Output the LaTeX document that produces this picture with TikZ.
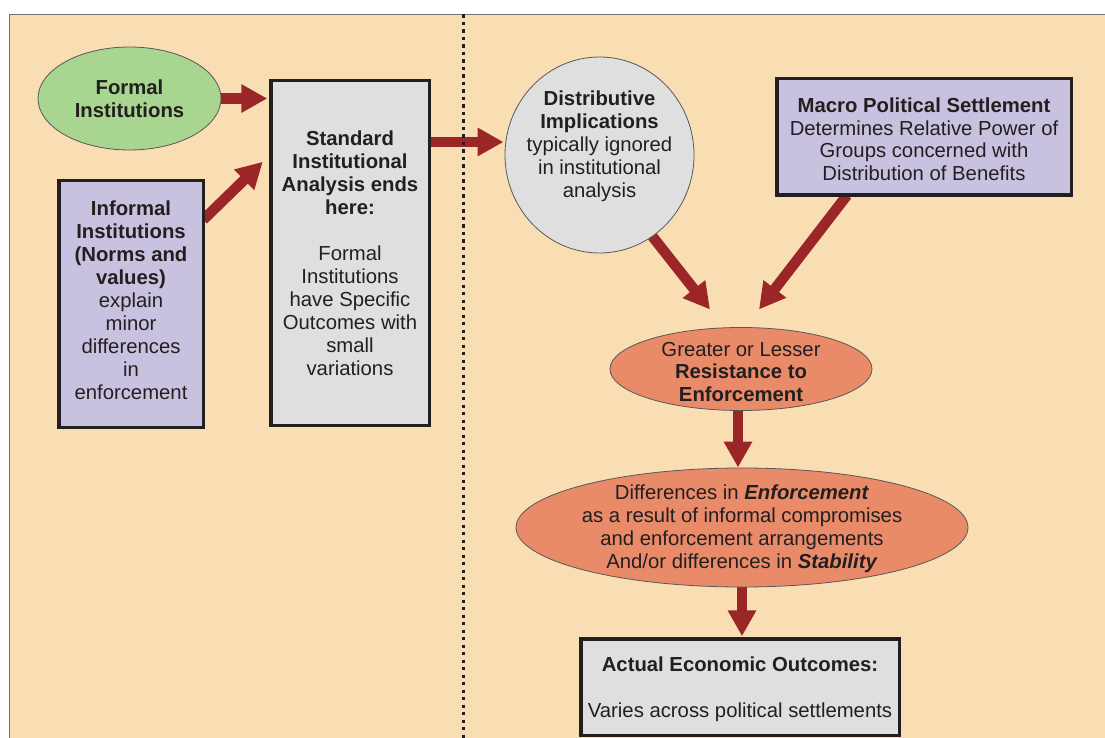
\documentclass[tikz,border=0pt]{standalone}
\usepackage{fontspec}
\setmainfont{Liberation Sans}
\usetikzlibrary{arrows.meta,shapes.geometric,calc,backgrounds}
\definecolor{peach}{HTML}{F9DEB4}
\definecolor{fgreen}{HTML}{A8D590}
\definecolor{lav}{HTML}{C8C2E0}
\definecolor{lgray}{HTML}{DFDFDF}
\definecolor{salmon}{HTML}{E98B69}
\definecolor{ared}{HTML}{9B2628}
\definecolor{ink}{HTML}{231F20}
\definecolor{framegray}{HTML}{707070}
\begin{document}
\begin{tikzpicture}[x=1pt,y=-1pt,
  box/.style={draw=ink, line width=3.5pt, rectangle, inner sep=0pt, outer sep=0pt},
  oval/.style={draw=ink!75, line width=0.8pt, ellipse, inner sep=0pt, outer sep=0pt},
  txt/.style={text=ink, align=center, inner sep=0pt, font=\fontsize{20.3}{23}\selectfont},
  flow/.style={draw=ared, line width=10.5pt, -{Triangle[width=27pt,length=26pt]}}]
\useasboundingbox (0,0) rectangle (1105,738);

% shapes
\node[oval, fill=fgreen, minimum width=183pt, minimum height=103pt] (formal) at (129.5,98.5) {};
\node[box, fill=lav, minimum width=144.5pt, minimum height=246.5pt] (inf) at (131,304) {};
\node[box, fill=lgray, minimum width=158.5pt, minimum height=344.5pt] (std) at (350,253) {};
\node[oval, fill=lgray, minimum width=189pt, minimum height=196pt] (dist) at (599.5,155) {};
\node[box, fill=lav, minimum width=294.5pt, minimum height=116.5pt] (macro) at (924,137) {};
\node[oval, fill=salmon, minimum width=262pt, minimum height=83pt] (res) at (741,369) {};
\node[oval, fill=salmon, minimum width=452pt, minimum height=119pt] (diff) at (742,527.5) {};
\node[box, fill=lgray, minimum width=318.5pt, minimum height=96.5pt] (act) at (740,687) {};

% texts
\node[txt, font=\fontsize{20.3}{23}\selectfont\bfseries] (tformal) at (129.5,98.5) {Formal\\Institutions};
\node[txt] (tinf) at (131,300.6) {\textbf{Informal}\\\textbf{Institutions}\\\textbf{(Norms and}\\\textbf{values)}\\explain\\minor\\differences\\in\\enforcement};
\node[txt] (tstd) at (350,253.6) {\textbf{Standard}\\\textbf{Institutional}\\\textbf{Analysis ends}\\\textbf{here:}\\[23pt]Formal\\Institutions\\have Specific\\Outcomes with\\small\\variations};
\node[txt] (tdist) at (599.5,145.8) {\textbf{Distributive}\\\textbf{Implications}\\typically ignored\\in institutional\\analysis};
\node[txt, font=\fontsize{20.3}{22.5}\selectfont] (tmacro) at (924,139) {\textbf{Macro Political Settlement}\\Determines Relative Power of\\Groups concerned with\\Distribution of Benefits};
\node[txt, font=\fontsize{20.3}{22.5}\selectfont] (tres) at (741,372) {Greater or Lesser\\\textbf{Resistance to}\\\textbf{Enforcement}};
\node[txt] (tdiff) at (742,528.8) {Differences in \textbf{\textit{Enforcement}}\\as a result of informal compromises\\and enforcement arrangements\\And/or differences in \textbf{\textit{Stability}}};
\node[txt] (tact) at (740,688.8) {\textbf{Actual Economic Outcomes:}\\[23pt]Varies across political settlements};

\begin{scope}[on background layer]
  \fill[peach] (9.5,14.5) rectangle (1110,745);
  \draw[framegray, line width=1pt] (1110,14.5) -- (9.5,14.5) -- (9.5,745);
  % connectors
  \draw[flow, shorten >=3.5pt] (formal.east) -- (formal.east -| std.west);
  \draw[flow] ($(inf.north east)+(0,39)$) -- ($(std.north west)+(-8,81)$);
  \draw[flow] ($(std.east)+(0,-111)$) -- ($(dist.west)+(-1.5,-13)$);
  \draw[flow] (dist.-57) -- ($(res.north)+(-31,-18)$);
  \draw[flow] ($(macro.south)+(-77,0)$) -- ($(res.north)+(18,-18)$);
  \draw[flow, shorten >=0.5pt] ($(res.south)+(-3,0)$) -- ($(diff.north)+(-4,0)$);
  \draw[flow, shorten >=2.5pt] (diff.south) -- (diff.south |- act.north);
  % divider
  \draw[ink, line width=3.3pt, dash pattern=on 3.3pt off 4.2pt] (463.3,14.5) -- (463.3,740);
\end{scope}
\end{tikzpicture}
\end{document}
